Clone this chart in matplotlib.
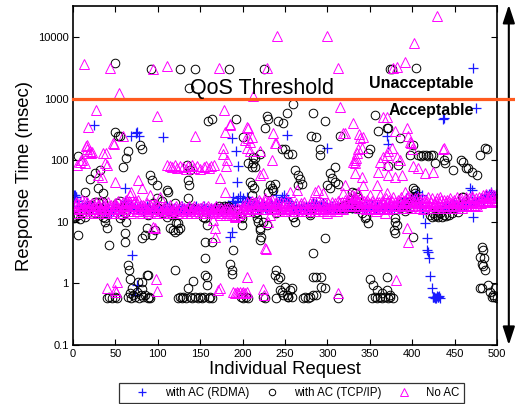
import numpy as np
import matplotlib
matplotlib.use("Agg")
import matplotlib.pyplot as plt
from matplotlib.ticker import FixedLocator, FixedFormatter, NullLocator

plt.rcParams["font.family"] = ["Liberation Sans", "DejaVu Sans"]

# ---- with AC (RDMA): band values for requests 1, 3, 5, ..., 499 ----
rdma_band_req = np.arange(1, 500, 2)
rdma_band_y = [
    27, 25, 22, 18, 17, 19, 16, 18, 20, 17,
    16, 18, 19, 17, 15, 17, 16, 18, 15, 14,
    17, 16, 14, 15, 17, 18, 16, 15, 17, 19,
    22, 20, 18, 17, 19, 16, 18, 17, 16, 18,
    17, 15, 16, 18, 17, 16, 15, 17, 16, 18,
    17, 16, 15, 17, 16, 18, 17, 15, 16, 17,
    16, 15, 17, 16, 18, 17, 16, 15, 17, 16,
    17, 16, 18, 16, 15, 17, 16, 18, 17, 16,
    15, 17, 16, 17, 18, 16, 17, 15, 17, 18,
    17, 19, 18, 20, 22, 19, 21, 24, 26, 22,
    24, 21, 19, 22, 20, 18, 20, 19, 17, 18,
    17, 19, 18, 17, 16, 18, 20, 19, 18, 17,
    19, 21, 23, 25, 27, 24, 22, 20, 19, 18,
    17, 18, 16, 17, 18, 16, 17, 18, 17, 16,
    18, 20, 19, 21, 18, 17, 19, 20, 18, 17,
    16, 17, 18, 16, 17, 18, 17, 16, 18, 17,
    18, 17, 19, 18, 17, 19, 18, 17, 16, 18,
    17, 16, 18, 17, 16, 18, 19, 17, 16, 18,
    17, 18, 16, 17, 19, 18, 17, 16, 18, 17,
    18, 17, 16, 18, 20, 22, 24, 21, 19, 22,
    25, 27, 23, 21, 19, 17, 14, 9.5, 5.4, 3.2,
    1.3, 0.84, 0.6, 0.58, 0.62, 0.6, 0.58, 16, 17, 18,
    18, 17, 19, 18, 20, 19, 17, 18, 19, 20,
    19, 18, 20, 21, 19, 22, 20, 21, 23, 22,
    24, 22, 25, 27, 26, 28, 30, 27, 26, 28,
]
rdma_extra_req = [1, 2, 4, 25, 61, 68, 74, 76, 78, 70, 75, 73, 106,
                  185, 187, 189, 192, 193, 195, 187, 199, 205, 217, 240,
                  252, 300, 370, 371, 406, 411, 418, 420, 424, 426, 428,
                  430, 432, 436, 438, 468, 470, 472, 472, 475]
rdma_extra_y = [22, 27, 25, 370, 35, 250, 275, 290, 250, 2.9, 0.93, 0.65, 240,
                5.7, 6.8, 25, 140, 44, 80, 230, 19, 25, 21, 27,
                260, 160, 245, 185, 30, 27, 3.5, 2.6, 0.6, 0.6, 0.59,
                0.6, 0.62, 460, 480, 36, 33, 12, 3150, 700]

# ---- with AC (TCP/IP) ----
tcp_high_req = [50, 92, 126, 137, 144, 184, 225, 374, 376, 404]
tcp_high_y = [3800, 3000, 3000, 1480, 3000, 3000, 3000, 3000, 3000, 3150]

tcp_mid_req = [6, 14, 20, 26, 32, 30, 35, 26,
               49, 53, 55, 65, 63, 59, 79, 81,
               91, 93, 99, 111, 112, 134, 138, 136, 137,
               159, 164, 192, 200, 229, 230, 226, 242, 248, 246, 252, 260, 253,
               212, 215, 215, 209, 211, 213, 220, 206, 211, 212,
               232, 235, 238, 230, 236,
               250, 258, 283, 297, 281, 287, 291, 291, 315, 356, 360, 370, 350, 348,
               309, 303, 305, 309, 262, 265, 268, 270, 265, 299, 303, 313, 333, 335, 329,
               371, 386, 383, 371, 407, 410, 413, 416, 419, 422, 425, 427, 438, 441,
               439, 448, 458, 460, 464, 466, 471, 476, 480, 486, 488, 397, 401, 401,
               403, 403, 403, 460]
tcp_mid_y = [117, 30, 50, 62, 70, 35, 29, 21,
             290, 250, 250, 140, 110, 78, 180, 150,
             58, 48, 40, 33, 30, 85, 70, 48, 40,
             440, 460, 470, 240, 525, 460, 330, 430, 400, 150, 590, 810, 125,
             90, 78, 110, 44, 40, 36, 125, 90, 78, 115,
             40, 36, 42, 30, 33,
             150, 125, 590, 430, 250, 240, 150, 120, 245, 540, 300, 330, 150, 130,
             78, 62, 51, 44, 70, 58, 50, 42, 40, 40, 35, 42, 29, 25, 30,
             330, 230, 85, 80, 120, 118, 122, 120, 118, 122, 120, 90, 100, 115,
             90, 70, 100, 95, 75, 75, 65, 58, 120, 160, 150, 120, 180, 35,
             29, 33, 25, 25]

tcp_band_req = [1, 2, 4, 6, 8, 11, 14, 20, 26, 32, 30, 35, 35, 38, 40, 35, 38,
                52, 55, 58, 61, 63, 55, 58,
                88, 94, 99, 100, 105, 106, 111, 117, 120, 118, 122, 124, 118,
                114, 120, 124, 126,
                136, 140, 153, 156, 158,
                170, 172, 174, 176, 178, 180, 182, 183,
                193, 197, 199, 197, 199,
                211, 215, 217, 220, 222, 217, 218, 220, 220, 224, 229, 240,
                259, 262, 260, 280, 280, 297, 283,
                315, 318, 321, 323, 325, 327, 329, 331, 333, 335, 337, 341, 344,
                346, 348,
                380, 378, 380, 382, 380, 401,
                386, 388, 390, 392, 394, 396, 398, 400,
                421, 423, 425, 427, 429, 431, 433, 435, 437, 440, 444, 447, 448,
                454, 459]
tcp_band_y = [11.5, 12, 12.5, 13, 11, 14, 12, 19, 14, 17, 21, 21, 12, 10, 8, 14, 11.5,
              20, 22, 17, 14, 10, 11.5, 13,
              13, 20, 24, 17, 22, 14, 12, 13, 20, 14, 9.5, 7.4, 7.4,
              8, 6.8, 9.5, 8,
              24, 17, 12, 11.5, 9,
              17, 18, 16.5, 17, 18, 16, 17, 18,
              15.5, 12, 9, 14, 11.5,
              27, 14, 11.5, 8, 5.7, 14.5, 10, 7.4, 5.1, 10, 8.8, 14,
              12, 10, 12, 14, 13, 5.4, 3.1,
              17, 18, 19, 17, 18, 20, 17, 18, 19, 17, 18, 14, 11.5,
              12, 9.5,
              10, 7.4, 6.5, 8.8, 11.5, 5.7,
              17, 20, 18, 15, 19, 17, 21, 20,
              13, 12, 14, 12.5, 13, 12, 14, 12, 13, 12.5, 13, 14, 17,
              14.5, 25]

tcp_low_req = [6, 42, 61, 61, 65, 66, 67, 81, 88, 87, 81, 85, 93, 97, 120,
               40, 43, 46, 49, 52,
               65, 67, 69, 70, 71, 73, 75, 77, 78, 80, 81, 83, 85, 87, 88, 90, 91,
               124, 126, 128, 130, 133, 136, 138, 140, 142, 144, 147, 150, 152,
               155, 156, 158, 158, 160, 162, 164,
               156, 164, 156, 189, 185, 187, 188,
               198, 201, 204, 206,
               224, 226, 238, 240, 242, 244, 244, 246, 248, 240, 253,
               250, 252, 256, 258, 254, 258,
               271, 274, 277, 280,
               283, 287, 293, 293, 287, 283, 297, 313,
               350, 354, 370, 353, 356, 359, 362, 365, 368, 371, 374, 377, 358,
               364, 370, 374,
               482, 484, 485, 480, 482, 483, 486, 482, 490, 492, 495, 497, 500,
               498, 494, 480]
tcp_low_y = [6.2, 4.2, 6.5, 4.7, 2.0, 1.65, 1.2, 1.05, 1.37, 8, 5.4, 6.2, 6.2, 7.4, 1.65,
             0.58, 0.6, 0.58, 0.6, 0.58,
             0.6, 0.7, 0.58, 0.84, 0.65, 0.6, 0.72, 1.05, 0.58, 0.65, 0.8, 0.6, 0.65,
             1.37, 0.58, 0.6, 0.58,
             0.58, 0.6, 0.58, 0.6, 0.58, 0.84, 0.6, 0.58, 1.1, 0.6, 0.58, 0.6, 0.58,
             0.6, 1.37, 0.93, 1.27, 0.58, 0.6, 0.58,
             2.6, 4.7, 4.7, 3.5, 2.1, 1.65, 1.4,
             0.6, 0.58, 0.6, 0.58,
             0.6, 0.58, 1.37, 1.65, 1.2, 1.27, 0.78, 0.73, 0.65, 0.58, 0.6,
             0.88, 0.65, 0.78, 0.6, 0.6, 0.84,
             0.58, 0.6, 0.58, 0.6,
             1.27, 1.27, 1.27, 0.88, 0.65, 0.65, 0.84, 0.58,
             1.2, 0.93, 1.27, 0.58, 0.6, 0.58, 0.6, 0.58, 0.6, 0.58, 0.6, 0.58, 0.78,
             0.7, 0.78, 0.65,
             3.9, 3.5, 2.6, 2.7, 2.1, 1.9, 1.65, 0.84, 0.93, 0.73, 0.65, 0.6, 0.58,
             0.84, 0.6, 0.84]

# ---- No AC: band values for requests 2, 4, ..., 500 and 1, 3, ..., 499 ----
noac_band_req = np.arange(2, 501, 2)
noac_band_y = [
    19, 21, 18, 20, 17, 19, 22, 18, 16, 19,
    17, 15, 18, 16, 19, 17, 15, 18, 16, 17,
    18, 16, 15, 17, 19, 18, 16, 17, 15, 18,
    20, 18, 22, 19, 17, 21, 18, 20, 17, 19,
    16, 18, 17, 15, 16, 18, 17, 16, 15, 17,
    16, 15, 17, 16, 15, 17, 16, 15, 16, 17,
    15, 16, 17, 15, 16, 15, 17, 16, 15, 16,
    17, 15, 16, 15, 17, 16, 15, 16, 17, 15,
    16, 15, 17, 16, 15, 16, 14, 15, 16, 17,
    15, 14, 16, 15, 13, 15, 14, 16, 15, 17,
    16, 18, 17, 19, 16, 18, 20, 17, 19, 21,
    18, 20, 22, 19, 21, 18, 20, 17, 19, 18,
    17, 19, 16, 18, 17, 19, 16, 18, 17, 16,
    18, 16, 17, 19, 16, 18, 17, 16, 18, 17,
    19, 17, 16, 18, 17, 19, 16, 18, 17, 16,
    17, 18, 16, 19, 17, 18, 20, 17, 19, 18,
    20, 22, 19, 21, 23, 20, 24, 21, 19, 22,
    20, 18, 21, 19, 17, 20, 18, 16, 19, 17,
    18, 20, 17, 19, 21, 18, 20, 22, 19, 21,
    20, 18, 21, 19, 22, 20, 24, 21, 19, 22,
    21, 23, 20, 22, 19, 21, 18, 20, 22, 19,
    21, 18, 20, 22, 19, 21, 23, 20, 18, 21,
    19, 22, 20, 18, 21, 19, 23, 20, 22, 19,
    21, 23, 20, 22, 24, 21, 19, 22, 20, 23,
    24, 22, 26, 23, 25, 27, 24, 22, 25, 21,
]
noac_band2_req = np.arange(1, 500, 2)
noac_band2_y = [
    16, 14, 20, 17, 15, 23, 16, 14, 21, 18,
    14, 20, 16, 21, 14, 19, 22, 15, 20, 14,
    21, 15, 19, 14, 20, 16, 22, 14, 19, 21,
    16, 23, 15, 21, 14, 17, 22, 15, 23, 16,
    14, 19, 15, 20, 14, 19, 15, 18, 14, 19,
    14, 18, 15, 14, 18, 15, 14, 19, 14, 15,
    18, 14, 15, 18, 14, 17, 15, 14, 18, 14,
    15, 18, 14, 17, 15, 14, 18, 15, 14, 18,
    14, 17, 15, 14, 18, 14, 13, 17, 14, 15,
    13, 17, 14, 13, 16, 12.5, 17, 13, 14, 16,
    19, 15, 21, 15, 20, 22, 16, 21, 16, 23,
    21, 16, 19, 24, 16, 22, 17, 23, 16, 21,
    20, 15, 21, 15, 20, 15, 21, 16, 20, 15,
    15, 20, 15, 16, 20, 15, 21, 15, 16, 20,
    16, 21, 15, 20, 15, 16, 21, 15, 20, 14,
    20, 15, 21, 16, 20, 15, 22, 16, 21, 16,
    23, 18, 25, 18, 21, 26, 18, 23, 17, 25,
    17, 22, 16, 23, 20, 16, 22, 19, 15, 21,
    21, 16, 22, 17, 24, 16, 23, 18, 25, 17,
    17, 23, 18, 25, 17, 23, 19, 26, 17, 24,
    18, 24, 17, 25, 17, 24, 16, 23, 18, 25,
    18, 24, 17, 19, 24, 17, 25, 18, 23, 17,
    23, 17, 24, 17, 23, 17, 25, 18, 24, 17,
    18, 25, 18, 24, 19, 26, 18, 24, 18, 25,
    20, 27, 21, 28, 22, 24, 29, 21, 27, 23,
]
noac_extra_req = [13, 44, 54, 94, 111, 172, 212, 229, 241, 299, 313, 377, 382, 391,
                  402, 429, 315, 366, 330,
                  27, 18, 99, 178, 185, 144, 59, 48, 15, 17, 20, 23, 9, 39, 206, 211,
                  177, 177, 182, 180, 203, 209, 220, 235, 236, 238, 205, 179, 185, 206,
                  209, 205, 220, 224, 240,
                  111, 114, 117, 120, 123, 126, 130, 133, 136, 140, 143, 146, 150, 154,
                  157, 160, 163, 166,
                  5, 8, 11, 14, 16, 18, 21, 29, 34, 35, 38, 40, 49, 47, 77, 81, 69, 67,
                  91, 103, 97, 94,
                  165, 167, 167, 165, 191, 226, 230, 232, 173, 179,
                  205, 171, 189, 191, 193, 195, 197, 199, 201, 203, 205, 224, 225, 228,
                  40, 52, 49, 51, 98, 99, 173,
                  256, 264, 285, 289, 295, 321, 319, 321, 329, 336, 338, 341, 336, 333,
                  330, 333, 341, 342, 350, 358, 362, 360, 366, 370, 362, 368, 313,
                  337, 342, 335, 334, 332, 318,
                  370, 380, 394, 395, 371, 376, 370, 382, 386, 397, 400, 401, 407, 372,
                  380, 388, 415, 424, 437, 391, 370, 394, 395, 381, 399, 436]
noac_extra_y = [3650, 3200, 1230, 3000, 3400, 3150, 1100, 3150, 10500, 10500, 3150,
                3150, 3300, 4000, 8000, 22000, 730, 500, 400,
                650, 350, 525, 650, 390, 245, 245, 183, 170, 150, 140, 135, 100, 130,
                330, 240, 160, 125, 100, 80, 215, 140, 140, 100, 280, 190, 350, 290,
                370, 230, 200, 160, 58, 62, 190,
                85, 80, 78, 85, 75, 82, 78, 72, 80, 85, 75, 80, 72, 78, 82, 75, 80, 85,
                85, 95, 100, 90, 180, 130, 130, 58, 53, 130, 90, 85, 44, 190, 48, 35,
                30, 27, 27, 25, 8, 8.3,
                10.7, 8, 5.7, 14, 12, 3.7, 10, 13, 51, 30,
                1.26, 0.78, 0.73, 0.7, 0.72, 0.7, 0.73, 0.7, 0.72, 0.7, 0.73, 0.82,
                0.65, 3.6,
                0.84, 1.05, 0.78, 0.73, 1.2, 0.75, 0.84,
                30, 33, 30, 33, 29, 40, 29, 280, 27, 30, 230, 160, 150, 100, 95, 62,
                53, 40, 27, 40, 95, 65, 115, 85, 27, 14, 0.7,
                270, 240, 130, 110, 90, 280,
                500, 300, 330, 245, 140, 160, 120, 115, 100, 200, 150, 80, 75, 58, 53,
                58, 62, 65, 160, 30, 29, 8, 4.7, 1.15, 190, 150]

x_ticks = [0, 50, 100, 150, 200, 250, 300, 350, 400, 450, 500]
y_ticks = [0.1, 1, 10, 100, 1000, 10000]
y_tick_labels = ["0.1", "1", "10", "100", "1000", "10000"]
qos_threshold = 1000


def main() -> None:
    fig = plt.figure(figsize=(5.15, 4.04), dpi=100)
    ax = fig.add_axes([0.1417, 0.146, 0.8233, 0.839])

    rdma_x = np.concatenate([rdma_band_req, rdma_extra_req])
    rdma_y = np.concatenate([rdma_band_y, rdma_extra_y])
    tcp_x = np.concatenate([tcp_band_req, tcp_mid_req, tcp_low_req, tcp_high_req])
    tcp_y = np.concatenate([tcp_band_y, tcp_mid_y, tcp_low_y, tcp_high_y])
    noac_x = np.concatenate([noac_band_req, noac_band2_req, noac_extra_req])
    noac_y = np.concatenate([noac_band_y, noac_band2_y, noac_extra_y])

    h1, = ax.plot(rdma_x, rdma_y, linestyle="none", marker="+", ms=7, mew=0.9,
                  color="#1a1aff", label="with AC (RDMA)")
    h2, = ax.plot(tcp_x, tcp_y, linestyle="none", marker="o", ms=6.2, mew=0.7,
                  mfc="none", mec="black", label="with AC (TCP/IP)")
    h3, = ax.plot(noac_x, noac_y, linestyle="none", marker="^", ms=6.8, mew=0.7,
                  mfc="none", mec="#ff00ff", label="No AC")

    ax.axhline(qos_threshold, 0, 1.05, color="#ff5a1e", lw=2.3, clip_on=False, zorder=5)

    ax.set_yscale("log")
    ax.set_xlim(0, 500)
    ax.set_ylim(0.1, 3.2e4)
    ax.xaxis.set_major_locator(FixedLocator(x_ticks))
    ax.yaxis.set_major_locator(FixedLocator(y_ticks))
    ax.yaxis.set_major_formatter(FixedFormatter(y_tick_labels))
    ax.yaxis.set_minor_locator(NullLocator())
    ax.tick_params(direction="in", top=True, right=True, length=4, width=0.8,
                   labelsize=8, pad=3)
    for sp in ax.spines.values():
        sp.set_linewidth(1.2)

    ax.set_xlabel("Individual Request", fontsize=13.3, labelpad=1)
    ax.set_ylabel("Response Time (msec)", fontsize=13.3, labelpad=4)

    ax.text(223, 1480, "QoS Threshold", fontsize=15.5, ha="center", va="center", zorder=6)
    ax.text(411, 1780, "Unacceptable", fontsize=11.5, fontweight="bold",
            ha="center", va="center", zorder=6)
    ax.text(422, 650, "Acceptable", fontsize=11.5, fontweight="bold",
            ha="center", va="center", zorder=6)

    ax.annotate("", xy=(0.988, 0.988), xytext=(0.988, 0.146),
                xycoords="figure fraction", textcoords="figure fraction",
                arrowprops=dict(arrowstyle="<|-|>,head_length=1.0,head_width=0.33",
                                lw=1.5, color="black", mutation_scale=11,
                                shrinkA=0, shrinkB=0))

    leg = fig.legend([h1, h2, h3], [h.get_label() for h in (h1, h2, h3)],
                     loc="center", bbox_to_anchor=(0.566, 0.027), ncol=3,
                     frameon=True, fancybox=False, edgecolor="black", fontsize=8.3,
                     handlelength=3.3, handletextpad=0.3, columnspacing=0.3,
                     borderpad=0.35, markerscale=0.75)
    leg.get_frame().set_linewidth(0.9)

    fig.savefig("out.png", dpi=100)
    plt.close(fig)


if __name__ == "__main__":
    main()
